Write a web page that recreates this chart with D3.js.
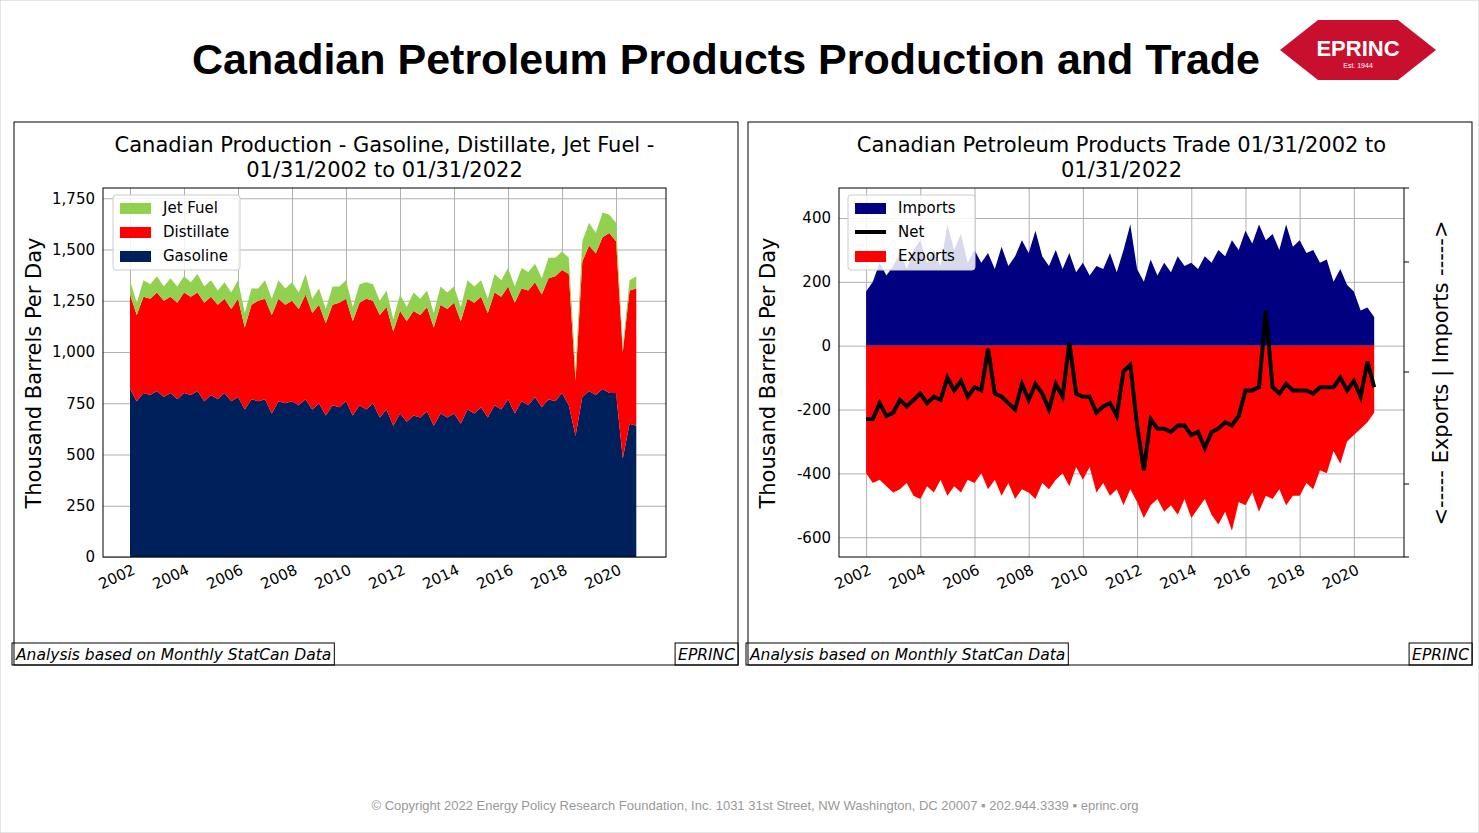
<!DOCTYPE html><html><head><meta charset="utf-8">
<script src="https://cdn.jsdelivr.net/npm/d3@7"></script>
<style>body{margin:0;background:#fff;}svg{display:block;}</style></head><body>
<script>
const gasoline=[820,760,800,790,810,780,800,770,800,790,810,760,790,770,800,760,780,720,770,760,770,700,760,750,760,740,770,720,750,690,740,730,760,690,740,720,750,680,720,640,700,660,690,680,710,640,700,680,700,650,720,700,730,680,740,720,770,700,760,740,780,730,770,760,800,740,590,780,810,790,820,800,800,480,650,640];
const distillate=[460,420,470,470,480,470,470,470,490,480,480,480,480,460,460,450,480,400,460,490,490,480,500,480,490,470,510,470,480,450,490,510,500,460,500,540,500,500,500,460,500,490,510,500,510,480,530,530,540,500,540,540,540,510,550,550,550,540,550,560,560,550,590,610,600,640,270,660,710,690,740,780,740,520,650,670];
const jetFuel=[70,60,80,70,80,70,90,80,80,70,90,80,80,70,80,80,90,70,80,60,90,80,90,80,90,80,100,70,80,70,90,80,90,70,90,80,80,70,80,60,80,70,90,80,80,70,90,80,80,70,90,80,80,70,90,80,90,80,100,90,90,80,100,90,90,80,60,100,110,100,120,90,90,30,50,60];
const imports=[170,200,260,220,250,290,240,300,330,260,300,250,380,300,350,260,300,260,290,240,310,250,280,330,290,360,280,250,300,240,290,230,260,220,250,240,290,230,300,380,240,200,270,220,260,230,280,250,260,240,280,260,300,280,330,300,360,320,380,330,350,300,380,310,330,290,300,260,270,200,240,190,170,110,120,90];
const exportsV=[-400,-430,-420,-440,-460,-450,-430,-470,-480,-440,-460,-420,-470,-440,-460,-420,-430,-400,-450,-420,-470,-430,-480,-450,-460,-480,-430,-450,-420,-400,-440,-380,-420,-380,-460,-430,-470,-450,-500,-450,-490,-540,-500,-480,-520,-500,-530,-480,-540,-510,-480,-530,-560,-520,-580,-490,-500,-460,-520,-470,-480,-450,-500,-470,-470,-430,-450,-390,-400,-330,-370,-300,-280,-260,-240,-210];
const net=[-230,-230,-180,-220,-210,-170,-190,-170,-150,-180,-160,-170,-100,-140,-110,-160,-130,-140,-10,-150,-160,-180,-200,-120,-170,-120,-150,-200,-120,-160,10,-150,-160,-160,-210,-190,-180,-220,-80,-60,-250,-390,-230,-260,-260,-270,-250,-250,-280,-270,-320,-270,-260,-240,-250,-220,-140,-140,-130,110,-130,-150,-120,-140,-140,-140,-150,-130,-130,-130,-100,-140,-110,-160,-50,-130];
const yearTicks=[2002,2004,2006,2008,2010,2012,2014,2016,2018,2020];
const leftTicks=[0,250,500,750,1000,1250,1500,1750];
const rightTicks=[-600,-400,-200,0,200,400];
const t=gasoline.map((_,i)=>2002+i/4);

const W=1479,H=833;
const svg=d3.select("body").append("svg").attr("width",W).attr("height",H);
svg.append("rect").attr("width",W).attr("height",H).attr("fill","#fff").attr("stroke","#ccc");
svg.append("text").attr("x",726).attr("y",74).attr("text-anchor","middle").attr("font-family","Liberation Sans, Arial").attr("font-weight","bold").attr("font-size",43).text("Canadian Petroleum Products Production and Trade");
const lg=svg.append("g").attr("transform","translate(1358,50)");
lg.append("path").attr("d","M-78,0 L-40,-30 L40,-30 L78,0 L40,30 L-40,30 Z").attr("fill","#c8102e");
lg.append("text").attr("x",0).attr("y",6).attr("text-anchor","middle").attr("fill","#fff").attr("font-family","Liberation Sans").attr("font-weight","bold").attr("font-size",22).text("EPRINC");
lg.append("text").attr("x",0).attr("y",18).attr("text-anchor","middle").attr("fill","#fff").attr("font-family","Liberation Sans").attr("font-size",7).text("Est. 1944");
svg.append("text").attr("x",755).attr("y",810).attr("text-anchor","middle").attr("fill","#999").attr("font-family","Liberation Sans, Arial").attr("font-size",13).text("© Copyright 2022 Energy Policy Research Foundation, Inc. 1031 31st Street, NW Washington, DC 20007 ▪ 202.944.3339 ▪ eprinc.org");

const F="DejaVu Sans";
function panel(px,title,plot,ydom,yt,fmt){
  const g=svg.append("g");
  g.append("rect").attr("x",px).attr("y",122).attr("width",724).attr("height",543).attr("fill","#fff").attr("stroke","#000");
  title.forEach((s,i)=>g.append("text").attr("x",(plot[0]+plot[1])/2).attr("y",152+i*25).attr("text-anchor","middle").attr("font-family",F).attr("font-size",21).text(s));
  const x=d3.scaleLinear().domain([2001.0,2021.85]).range([plot[0],plot[1]]);
  const y=d3.scaleLinear().domain(ydom).range([557,188]);
  g.append("g").attr("transform","translate(0,557)").call(d3.axisBottom(x).tickValues(yearTicks).tickFormat(d3.format("d")).tickSize(-369)).call(a=>{a.select(".domain").remove();a.selectAll("line").attr("stroke","#b0b0b0");a.selectAll("text").attr("font-family",F).attr("font-size",15).attr("text-anchor","end").attr("transform","translate(0,4) rotate(-25)");});
  g.append("g").attr("transform",`translate(${plot[0]},0)`).call(d3.axisLeft(y).tickValues(yt).tickFormat(fmt).tickSize(-(plot[1]-plot[0]))).call(a=>{a.select(".domain").remove();a.selectAll("line").attr("stroke","#b0b0b0");a.selectAll("text").attr("font-family",F).attr("font-size",15).attr("x",-8);});
  g.append("text").attr("transform",`translate(${px+27},373) rotate(-90)`).attr("text-anchor","middle").attr("font-family",F).attr("font-size",21).text("Thousand Barrels Per Day");
  [["Analysis based on Monthly StatCan Data",px,1],["EPRINC",px+724,0]].forEach(([s,xx,l])=>{
    const tx=g.append("text").attr("x",l?xx+2:xx-3).attr("y",660).attr("text-anchor",l?"start":"end").attr("font-family",F).attr("font-style","italic").attr("font-size",15.5).text(s);
    const b=tx.node().getBBox();g.append("rect").attr("x",b.x-3).attr("y",643).attr("width",b.width+6).attr("height",22).attr("fill","none").attr("stroke","#000");
  });
  return {g,x,y,plot};
}
function legend(g,x0,items){
  g.append("rect").attr("x",x0).attr("y",195).attr("width",127).attr("height",75).attr("rx",3).attr("fill","#fff").attr("fill-opacity",0.85).attr("stroke","#ccc");
  items.forEach(([lab,c,line],i)=>{
    const yy=208+i*24;
    if(line) g.append("line").attr("x1",x0+7).attr("x2",x0+38).attr("y1",yy).attr("y2",yy).attr("stroke",c).attr("stroke-width",4);
    else g.append("rect").attr("x",x0+7).attr("y",yy-5).attr("width",31).attr("height",11).attr("fill",c);
    g.append("text").attr("x",x0+50).attr("y",yy+5).attr("font-family",F).attr("font-size",15).text(lab);
  });
}
const L=panel(14,["Canadian Production - Gasoline, Distillate, Jet Fuel -","01/31/2002 to 01/31/2022"],[103,666],[0,1800],leftTicks,d3.format(","));
const dd=t.map((tt,i)=>({t:tt,g:gasoline[i],d:distillate[i],j:jetFuel[i]}));
const st=d3.stack().keys(["g","d","j"])(dd);
const colL={g:"#00205b",d:"#ff0000",j:"#92d050"};
const ar=d3.area().x(d=>L.x(d.data.t)).y0(d=>L.y(d[0])).y1(d=>L.y(d[1]));
st.forEach(s=>L.g.append("path").attr("d",ar(s)).attr("fill",colL[s.key]));
L.g.append("rect").attr("x",103).attr("y",188).attr("width",563).attr("height",369).attr("fill","none").attr("stroke","#000");
legend(L.g,113,[["Jet Fuel","#92d050"],["Distillate","#ff0000"],["Gasoline","#00205b"]]);
const R=panel(748,["Canadian Petroleum Products Trade 01/31/2002 to","01/31/2022"],[839,1404],[-662,494],rightTicks,d3.format("d"));
R.g.selectAll("text").each(function(){const s=d3.select(this);s.text(s.text().replace("\u2212","-"));});
const a2=d3.area().x((d,i)=>R.x(t[i])).y0(R.y(0)).y1(d=>R.y(d));
R.g.append("path").attr("d",a2(imports)).attr("fill","#000080");
R.g.append("path").attr("d",a2(exportsV)).attr("fill","#ff0000");
R.g.append("path").attr("d",d3.line().x((d,i)=>R.x(t[i])).y(d=>R.y(d))(net)).attr("fill","none").attr("stroke","#000").attr("stroke-width",4);
R.g.append("rect").attr("x",839).attr("y",188).attr("width",565).attr("height",369).attr("fill","none").attr("stroke","#000");
[188,262,372,484,557].forEach(v=>R.g.append("line").attr("x1",1404).attr("x2",1409).attr("y1",v).attr("y2",v).attr("stroke","#000"));
R.g.append("text").attr("transform","translate(1448,373) rotate(-90)").attr("text-anchor","middle").attr("font-family",F).attr("font-size",21).text("<----- Exports | Imports ----->");
legend(R.g,848,[["Imports","#000080"],["Net","#000",1],["Exports","#ff0000"]]);
</script></body></html>
